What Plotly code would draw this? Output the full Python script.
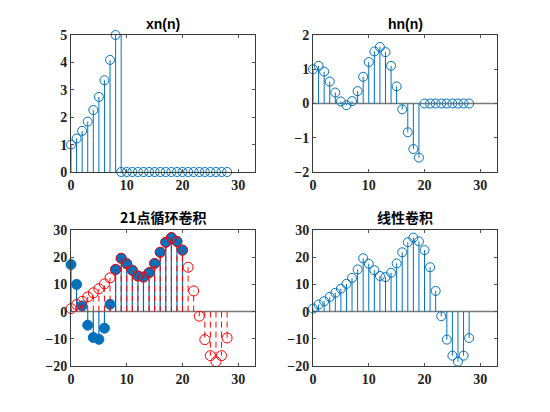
import plotly.graph_objects as go

n_x = list(range(0, 29))
xn = [1.0, 1.22, 1.5, 1.84, 2.26, 2.74, 3.35, 4.09, 5.0] + [0.0] * 20
xn_edge_n = [9]
xn_edge_v = [5.0]

n_h = list(range(0, 29))
hn = [1.0, 1.10, 0.93, 0.64, 0.32, 0.06, -0.05, 0.07, 0.36, 0.78, 1.21, 1.52,
      1.65, 1.50, 1.10, 0.50, -0.17, -0.84, -1.33, -1.58] + [0.0] * 9

n_lin = list(range(0, 29))
lin = [1.1, 2.6, 3.8, 5.4, 6.9, 8.4, 10.2, 12.4, 15.5, 19.6, 17.6, 15.2, 13.1,
       12.7, 14.3, 17.7, 21.8, 25.5, 27.2, 25.8, 22.6, 16.3, 7.6, -1.7, -10.3,
       -16.2, -18.4, -16.2, -9.7]

n_circ = list(range(0, 21))
circ = [17.3, 10.0, 2.1, -5.0, -9.5, -10.2, -6.1, 2.7, 15.5, 19.6, 17.6, 15.2,
        13.1, 12.7, 14.3, 17.7, 21.8, 25.5, 27.2, 25.8, 22.6]

titles = ["xn(n)", "hn(n)", "21点循环卷积", "线性卷积"]
x_ticks = [0, 10, 20, 30]
y_ticks = [[0, 1, 2, 3, 4, 5], [-2, -1, 0, 1, 2],
           [-20, -10, 0, 10, 20, 30], [-20, -10, 0, 10, 20, 30]]
y_ranges = [[0, 5], [-2, 2], [-20, 30], [-20, 30]]
x_range = [0, 33]

BLUE = "#0072BD"
RED = "#FF0000"

doms_x = [[71/550, 255/550], [313/550, 497/550], [71/550, 255/550], [313/550, 497/550]]
doms_y = [[(412-172)/412, (412-35)/412], [(412-172)/412, (412-35)/412],
          [(412-366)/412, (412-230)/412], [(412-366)/412, (412-230)/412]]


def stem_xy(ns, vs):
    xs, ys = [], []
    for a, b in zip(ns, vs):
        xs += [a, a, None]
        ys += [0, b, None]
    return xs, ys


fig = go.Figure()


def add(i, trace):
    ax = "" if i == 0 else str(i + 1)
    trace.update(xaxis="x" + ax, yaxis="y" + ax, showlegend=False, hoverinfo="skip",
                 cliponaxis=False)
    fig.add_trace(trace)


def baseline(i):
    add(i, go.Scatter(x=x_range, y=[0, 0], mode="lines",
                      line=dict(color="#7a7a7a", width=1.5)))


# xn
sx, sy = stem_xy(n_x, xn)
add(0, go.Scatter(x=sx, y=sy, mode="lines", line=dict(color=BLUE, width=1)))
ex, ey = stem_xy(xn_edge_n, xn_edge_v)
add(0, go.Scatter(x=ex, y=ey, mode="lines", line=dict(color=BLUE, width=1)))
add(0, go.Scatter(x=n_x, y=xn, mode="markers",
                  marker=dict(symbol="circle-open", size=9, color=BLUE, line=dict(width=1))))

# hn
baseline(1)
sx, sy = stem_xy(n_h, hn)
add(1, go.Scatter(x=sx, y=sy, mode="lines", line=dict(color=BLUE, width=1)))
add(1, go.Scatter(x=n_h, y=hn, mode="markers",
                  marker=dict(symbol="circle-open", size=9, color=BLUE, line=dict(width=1))))

# circular
baseline(2)
sx, sy = stem_xy(n_circ, circ)
add(2, go.Scatter(x=sx, y=sy, mode="lines", line=dict(color=BLUE, width=1.2)))
add(2, go.Scatter(x=n_circ, y=circ, mode="markers",
                  marker=dict(symbol="circle", size=10, color=BLUE, line=dict(width=1, color=BLUE))))
sx, sy = stem_xy(n_lin, lin)
add(2, go.Scatter(x=sx, y=sy, mode="lines", line=dict(color=RED, width=1, dash="6px,4px")))
add(2, go.Scatter(x=n_lin, y=lin, mode="markers",
                  marker=dict(symbol="circle-open", size=10, color=RED, line=dict(width=1))))

# linear
baseline(3)
sx, sy = stem_xy(n_lin, lin)
add(3, go.Scatter(x=sx, y=sy, mode="lines", line=dict(color=BLUE, width=1)))
add(3, go.Scatter(x=n_lin, y=lin, mode="markers",
                  marker=dict(symbol="circle-open", size=9, color=BLUE, line=dict(width=1))))

tickfont = dict(family="Liberation Serif", size=14, color="#222222", weight="bold")
layout = dict(width=550, height=412, margin=dict(l=0, r=0, t=0, b=0),
              paper_bgcolor="white", plot_bgcolor="white", annotations=[])
for i in range(4):
    ax = "" if i == 0 else str(i + 1)
    layout["xaxis" + ax] = dict(domain=doms_x[i], range=x_range, tickvals=x_ticks,
                                ticks="inside", ticklen=3, tickcolor="#555",
                                showgrid=False, zeroline=False, showline=True,
                                linecolor="#3a3a3a", linewidth=1, mirror="ticks",
                                tickfont=tickfont, anchor="y" + ax, automargin=False)
    layout["yaxis" + ax] = dict(domain=doms_y[i], range=y_ranges[i], tickvals=y_ticks[i],
                                ticks="inside", ticklen=3, tickcolor="#555",
                                showgrid=False, zeroline=False, showline=True,
                                linecolor="#3a3a3a", linewidth=1, mirror="ticks",
                                tickfont=tickfont, anchor="x" + ax, automargin=False)
    fam = "Liberation Sans" if i < 2 else "Noto Sans CJK SC"
    layout["annotations"].append(dict(
        text=titles[i], x=(doms_x[i][0] + doms_x[i][1]) / 2, y=doms_y[i][1],
        xref="paper", yref="paper", xanchor="center", yanchor="bottom", yshift=1,
        showarrow=False, font=dict(family=fam, size=14, color="black", weight="bold")))
fig.update_layout(**layout)
fig.write_html("out.html")
